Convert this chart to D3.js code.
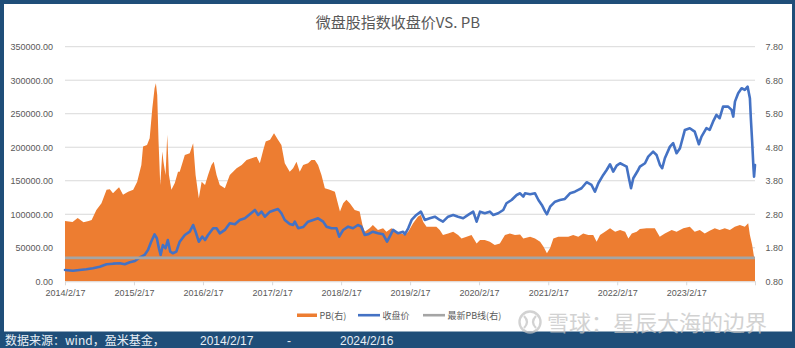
<!DOCTYPE html>
<html>
<head>
<meta charset="utf-8">
<script src="https://cdn.jsdelivr.net/npm/d3@7"></script>
<style>
  body { margin: 0; background: #fff; }
  svg { display: block; }
</style>
</head>
<body>
<svg id="chart" width="795" height="348"></svg>
<script>
// ---- data ----
const pbDates = ["2014-02-17","2014-03-29","2014-04-25","2014-05-26","2014-06-22","2014-07-08","2014-08-02","2014-08-29","2014-09-25","2014-10-12","2014-10-29","2014-11-16","2014-11-30","2014-12-21","2015-01-17","2015-02-13","2015-03-06","2015-03-28","2015-04-06","2015-04-27","2015-05-11","2015-05-25","2015-06-06","2015-06-13","2015-06-20","2015-06-27","2015-07-06","2015-07-17","2015-07-23","2015-08-03","2015-08-12","2015-08-21","2015-09-03","2015-09-21","2015-10-08","2015-10-17","2015-11-13","2015-12-09","2015-12-27","2016-01-09","2016-01-26","2016-02-10","2016-02-28","2016-03-15","2016-04-02","2016-04-14","2016-04-29","2016-05-16","2016-06-12","2016-07-08","2016-08-13","2016-09-09","2016-10-05","2016-11-01","2016-11-27","2016-12-14","2017-01-01","2017-01-14","2017-02-06","2017-02-27","2017-03-20","2017-04-07","2017-04-25","2017-05-21","2017-06-08","2017-06-26","2017-07-13","2017-07-31","2017-08-26","2017-09-13","2017-10-01","2017-10-18","2017-11-05","2017-11-23","2017-12-19","2018-01-15","2018-02-02","2018-02-11","2018-02-28","2018-03-17","2018-04-04","2018-04-30","2018-05-26","2018-06-10","2018-06-22","2018-07-18","2018-08-04","2018-08-31","2018-09-27","2018-10-15","2018-11-10","2018-12-07","2019-01-03","2019-01-20","2019-02-07","2019-03-05","2019-03-31","2019-04-15","2019-04-27","2019-05-15","2019-06-10","2019-07-06","2019-07-24","2019-08-10","2019-09-06","2019-10-03","2019-10-29","2019-11-16","2019-12-13","2020-01-08","2020-02-04","2020-02-22","2020-03-18","2020-04-14","2020-05-10","2020-06-06","2020-07-03","2020-07-29","2020-08-25","2020-09-21","2020-10-08","2020-11-13","2020-12-09","2021-01-05","2021-01-23","2021-02-10","2021-02-27","2021-03-16","2021-04-11","2021-05-08","2021-06-03","2021-06-29","2021-07-26","2021-08-21","2021-09-17","2021-10-13","2021-10-31","2021-11-18","2021-12-14","2022-01-10","2022-02-06","2022-03-04","2022-03-31","2022-04-17","2022-05-05","2022-05-31","2022-06-17","2022-07-22","2022-09-04","2022-09-30","2022-10-27","2022-12-02","2022-12-28","2023-02-02","2023-03-08","2023-04-03","2023-04-30","2023-05-26","2023-06-21","2023-07-18","2023-08-13","2023-09-09","2023-10-06","2023-11-01","2023-11-28","2023-12-24","2024-01-11","2024-01-20","2024-02-01","2024-02-12","2024-02-16"];
const pbValues = [2.60,2.57,2.69,2.56,2.60,2.63,2.93,3.13,3.53,3.55,3.43,3.53,3.61,3.38,3.47,3.53,3.77,4.27,4.82,4.87,5.07,5.96,6.56,6.71,6.36,4.97,3.67,4.67,4.37,3.97,5.17,3.97,3.53,3.73,4.07,4.07,4.57,4.62,4.92,3.97,3.28,3.77,3.67,3.97,4.27,4.37,3.97,3.67,3.58,3.97,4.17,4.27,4.42,4.47,4.52,4.32,4.72,4.97,5.02,5.22,5.02,4.87,4.32,4.07,4.17,4.37,4.07,4.27,4.32,4.42,4.42,4.27,3.97,3.58,3.53,3.47,3.08,2.88,3.13,3.23,3.13,2.93,2.88,2.48,2.28,2.38,2.48,2.33,2.38,2.28,2.38,2.28,2.23,2.18,2.28,2.53,2.73,2.78,2.58,2.43,2.43,2.43,2.33,2.18,2.23,2.28,2.18,2.08,2.13,2.18,1.93,2.03,2.03,1.98,1.88,1.93,2.18,2.23,2.18,2.20,2.08,2.13,2.08,1.98,1.83,1.64,1.79,2.08,2.13,2.13,2.13,2.18,2.13,2.23,2.18,2.18,1.98,2.18,2.28,2.38,2.28,2.33,2.28,2.08,2.23,2.28,2.36,2.38,2.38,2.13,2.23,2.33,2.28,2.38,2.43,2.28,2.33,2.23,2.31,2.38,2.33,2.38,2.33,2.43,2.48,2.43,2.53,2.18,1.88,1.49,1.50];

const closeDates = ["2014-02-17","2014-03-31","2014-05-05","2014-06-10","2014-07-15","2014-08-20","2014-09-25","2014-10-29","2014-12-04","2014-12-30","2015-01-26","2015-02-22","2015-03-18","2015-04-14","2015-05-02","2015-05-19","2015-06-06","2015-06-18","2015-06-29","2015-07-08","2015-07-20","2015-08-03","2015-08-15","2015-08-28","2015-09-11","2015-09-29","2015-10-17","2015-11-13","2015-12-09","2015-12-27","2016-01-09","2016-01-26","2016-02-13","2016-02-28","2016-03-15","2016-04-11","2016-04-29","2016-05-16","2016-06-12","2016-07-08","2016-08-04","2016-08-30","2016-09-26","2016-10-22","2016-11-18","2016-12-05","2016-12-23","2017-01-10","2017-02-06","2017-03-04","2017-03-20","2017-04-07","2017-04-25","2017-05-21","2017-06-08","2017-06-17","2017-07-05","2017-07-31","2017-08-26","2017-09-22","2017-10-18","2017-11-14","2017-12-02","2017-12-28","2018-01-24","2018-02-07","2018-02-28","2018-03-26","2018-04-21","2018-05-17","2018-06-04","2018-06-22","2018-07-09","2018-08-04","2018-08-31","2018-09-27","2018-10-18","2018-11-01","2018-11-19","2018-12-16","2019-01-11","2019-01-20","2019-02-07","2019-02-25","2019-03-22","2019-04-15","2019-05-06","2019-06-01","2019-06-28","2019-07-24","2019-08-10","2019-09-06","2019-10-03","2019-10-29","2019-11-25","2019-12-21","2020-01-17","2020-02-04","2020-02-22","2020-03-18","2020-04-14","2020-05-02","2020-05-28","2020-06-24","2020-07-11","2020-08-07","2020-09-03","2020-09-21","2020-10-08","2020-10-17","2020-11-13","2020-12-09","2020-12-27","2021-01-14","2021-02-01","2021-02-10","2021-02-27","2021-03-25","2021-04-20","2021-05-16","2021-06-12","2021-07-08","2021-07-26","2021-08-12","2021-09-08","2021-10-04","2021-10-22","2021-11-09","2021-12-05","2021-12-23","2022-01-10","2022-01-27","2022-02-14","2022-03-04","2022-03-21","2022-04-08","2022-04-20","2022-05-01","2022-05-13","2022-06-08","2022-06-17","2022-07-14","2022-07-31","2022-08-26","2022-09-13","2022-10-01","2022-10-13","2022-10-27","2022-11-23","2022-12-10","2022-12-28","2023-01-15","2023-02-10","2023-03-08","2023-04-03","2023-04-25","2023-05-09","2023-06-04","2023-06-21","2023-07-09","2023-07-27","2023-08-13","2023-08-31","2023-09-27","2023-10-15","2023-10-24","2023-11-02","2023-11-19","2023-12-07","2023-12-24","2024-01-08","2024-01-20","2024-01-25","2024-02-01","2024-02-08","2024-02-11","2024-02-16"];
const closeValues = [16900,15800,16900,17900,19400,21800,25400,26300,26900,25400,28400,30300,35200,39300,46700,59100,70100,64200,49300,39300,54200,49300,61600,44200,41800,44200,59100,69100,74000,84000,74000,59100,66600,61600,69100,79100,79100,71600,76600,86600,85100,91500,94000,100000,106400,99000,103900,96400,103900,106400,107900,101500,91500,85500,84000,89000,79100,81000,89000,91500,94000,89000,81500,79100,79100,66600,76600,81500,79100,84000,81500,69100,70100,74000,71600,70100,59100,66600,76600,71600,74000,70100,79100,91500,99000,103900,91500,94000,96400,91500,89000,96400,99000,96400,94000,99000,103900,89000,103900,101500,103900,99000,101500,106400,116400,121300,128800,131300,126300,131300,129800,131300,121300,113900,103900,100000,111300,118800,121300,122800,131300,133700,136300,138800,147800,143700,133700,146300,158700,166100,174600,163600,172500,176100,173600,171000,153700,138800,153700,166100,171000,176100,186000,193400,188500,173600,168700,183600,200900,206000,191000,198500,225800,228400,223300,204500,215800,228400,225800,238200,248200,243300,260600,260600,255700,245700,268100,280600,288000,285500,290400,273100,243300,208400,168700,156100,173600];

const latestPB = 1.50;
const startDate = "2014-02-17";
const endDate = "2024-02-16";
const xTickDates = ["2014-02-17","2015-02-17","2016-02-17","2017-02-17","2018-02-17","2019-02-17","2020-02-17","2021-02-17","2022-02-17","2023-02-17"];
const leftTicks = [0, 50000, 100000, 150000, 200000, 250000, 300000, 350000];
const rightTicks = [0.8, 1.8, 2.8, 3.8, 4.8, 5.8, 6.8, 7.8];
const titleText = "微盘股指数收盘价VS. PB";
const legendItems = [
  { label: "PB(右)", kind: "area", color: "#ED7D31" },
  { label: "收盘价", kind: "line", color: "#4472C4" },
  { label: "最新PB线(右)", kind: "line", color: "#A5A5A5" }
];
const sourceText = "数据来源：wind，盈米基金，";
const watermarkText = "雪球：星辰大海的边界";

// ---- setup ----
const W = 795, H = 348;
const plot = { left: 65, right: 755, top: 46.7, bottom: 281.3 };
const parse = d3.timeParse("%Y-%m-%d");
const fmtDate = d3.timeFormat("%Y/%-m/%-d");
const latin = "'Liberation Sans', Arial, 'Noto Sans CJK SC', sans-serif";
const cjk = "'Noto Sans CJK SC', 'Liberation Sans', sans-serif";
const textGray = "#595959";
const gridGray = "#d9d9d9";

const svg = d3.select("#chart");

// frame and panel
svg.append("rect").attr("width", W).attr("height", H).attr("fill", "#1F4E79");
svg.append("rect").attr("x", 4).attr("y", 4).attr("width", 788).attr("height", 327.5).attr("fill", "#ffffff");

const x = d3.scaleTime().domain([parse(startDate), parse(endDate)]).range([plot.left, plot.right]);
const yL = d3.scaleLinear().domain([0, 350000]).range([plot.bottom, plot.top]);
const yR = d3.scaleLinear().domain([0.8, 7.8]).range([plot.bottom, plot.top]);

// gridlines
svg.append("g").selectAll("line").data(leftTicks.slice(1)).join("line")
  .attr("x1", plot.left).attr("x2", plot.right)
  .attr("y1", d => yL(d)).attr("y2", d => yL(d))
  .attr("stroke", gridGray).attr("stroke-width", 1);

// PB area (right axis)
const pbData = d3.zip(pbDates, pbValues).map(([d, v]) => ({ date: parse(d), v }));
svg.append("path").datum(pbData)
  .attr("fill", "#ED7D31")
  .attr("d", d3.area().x(d => x(d.date)).y0(yR(0.8)).y1(d => yR(d.v)));

// closing price line (left axis)
const closeData = d3.zip(closeDates, closeValues).map(([d, v]) => ({ date: parse(d), v }));
svg.append("path").datum(closeData)
  .attr("fill", "none").attr("stroke", "#4472C4").attr("stroke-width", 2.6)
  .attr("stroke-linejoin", "round").attr("stroke-linecap", "round")
  .attr("d", d3.line().x(d => x(d.date)).y(d => yL(d.v)));

// latest PB reference line (right axis)
const refData = [parse(startDate), parse(endDate)].map(d => ({ date: d, v: latestPB }));
svg.append("path").datum(refData)
  .attr("fill", "none").attr("stroke", "#A5A5A5").attr("stroke-width", 2.6)
  .attr("d", d3.line().x(d => x(d.date)).y(d => yR(d.v)));

// left axis
const gL = svg.append("g").attr("transform", `translate(${plot.left},0)`)
  .call(d3.axisLeft(yL).tickValues(leftTicks).tickFormat(d3.format(".2f")).tickSize(0).tickPadding(12));
gL.select(".domain").remove();
gL.selectAll("text").attr("fill", textGray).style("font-family", latin).style("font-size", "9px");

// right axis
const gR = svg.append("g").attr("transform", `translate(${plot.right},0)`)
  .call(d3.axisRight(yR).tickValues(rightTicks).tickFormat(d3.format(".2f")).tickSize(0).tickPadding(10.5));
gR.select(".domain").remove();
gR.selectAll("text").attr("fill", textGray).style("font-family", latin).style("font-size", "9px");

// bottom axis
const xTicks = xTickDates.map(parse).concat([parse(endDate)]);
const gX = svg.append("g").attr("transform", `translate(0,${plot.bottom})`)
  .call(d3.axisBottom(x).tickValues(xTicks)
    .tickFormat((d, i) => i < xTickDates.length ? fmtDate(d) : "")
    .tickSize(4).tickPadding(4).tickSizeOuter(0));
gX.select(".domain").attr("stroke", gridGray);
gX.selectAll(".tick line").attr("stroke", gridGray);
gX.selectAll("text").attr("fill", textGray).style("font-family", latin).style("font-size", "9px");

// title
svg.append("text").attr("x", 398).attr("y", 28).attr("text-anchor", "middle")
  .attr("fill", textGray).style("font-family", cjk).style("font-size", "15px")
  .text(titleText);

// legend
const legendX = [297, 358, 423];
const lg = svg.append("g");
legendItems.forEach((it, i) => {
  const x0 = legendX[i];
  const sw = it.kind === "area" ? 20 : 22;
  if (it.kind === "area") {
    lg.append("rect").attr("x", x0).attr("y", 313.5).attr("width", sw).attr("height", 3.5).attr("fill", it.color);
  } else {
    lg.append("line").attr("x1", x0).attr("x2", x0 + sw).attr("y1", 315.2).attr("y2", 315.2)
      .attr("stroke", it.color).attr("stroke-width", 2.6);
  }
  lg.append("text").attr("x", x0 + sw + 2.5).attr("y", 318.5)
    .attr("fill", textGray).style("font-family", cjk).style("font-size", "9px")
    .text(it.label);
});

// footer band text
const foot = svg.append("g").attr("fill", "#e8eef5").style("font-size", "12px");
foot.append("text").attr("x", 5).attr("y", 345).style("font-family", cjk).text(sourceText);
foot.append("text").attr("x", 200).attr("y", 345).style("font-family", latin).text(fmtDate(parse(startDate)));
foot.append("text").attr("x", 287).attr("y", 345).style("font-family", latin).text("-");
foot.append("text").attr("x", 340).attr("y", 345).style("font-family", latin).text(fmtDate(parse(endDate)));

// watermark
const wm = svg.append("g").attr("opacity", 0.75);
wm.append("circle").attr("cx", 530).attr("cy", 322).attr("r", 10.5)
  .attr("fill", "none").attr("stroke", "#c4c4c4").attr("stroke-width", 2.4);
wm.append("path").attr("d", "M524,316 Q530,322 524,328 M536,316 Q530,322 536,328")
  .attr("fill", "none").attr("stroke", "#c4c4c4").attr("stroke-width", 2.2);
wm.append("text").attr("x", 547).attr("y", 331).attr("fill", "#c4c4c4")
  .style("font-family", cjk).style("font-size", "22px").text(watermarkText);
</script>
</body>
</html>
